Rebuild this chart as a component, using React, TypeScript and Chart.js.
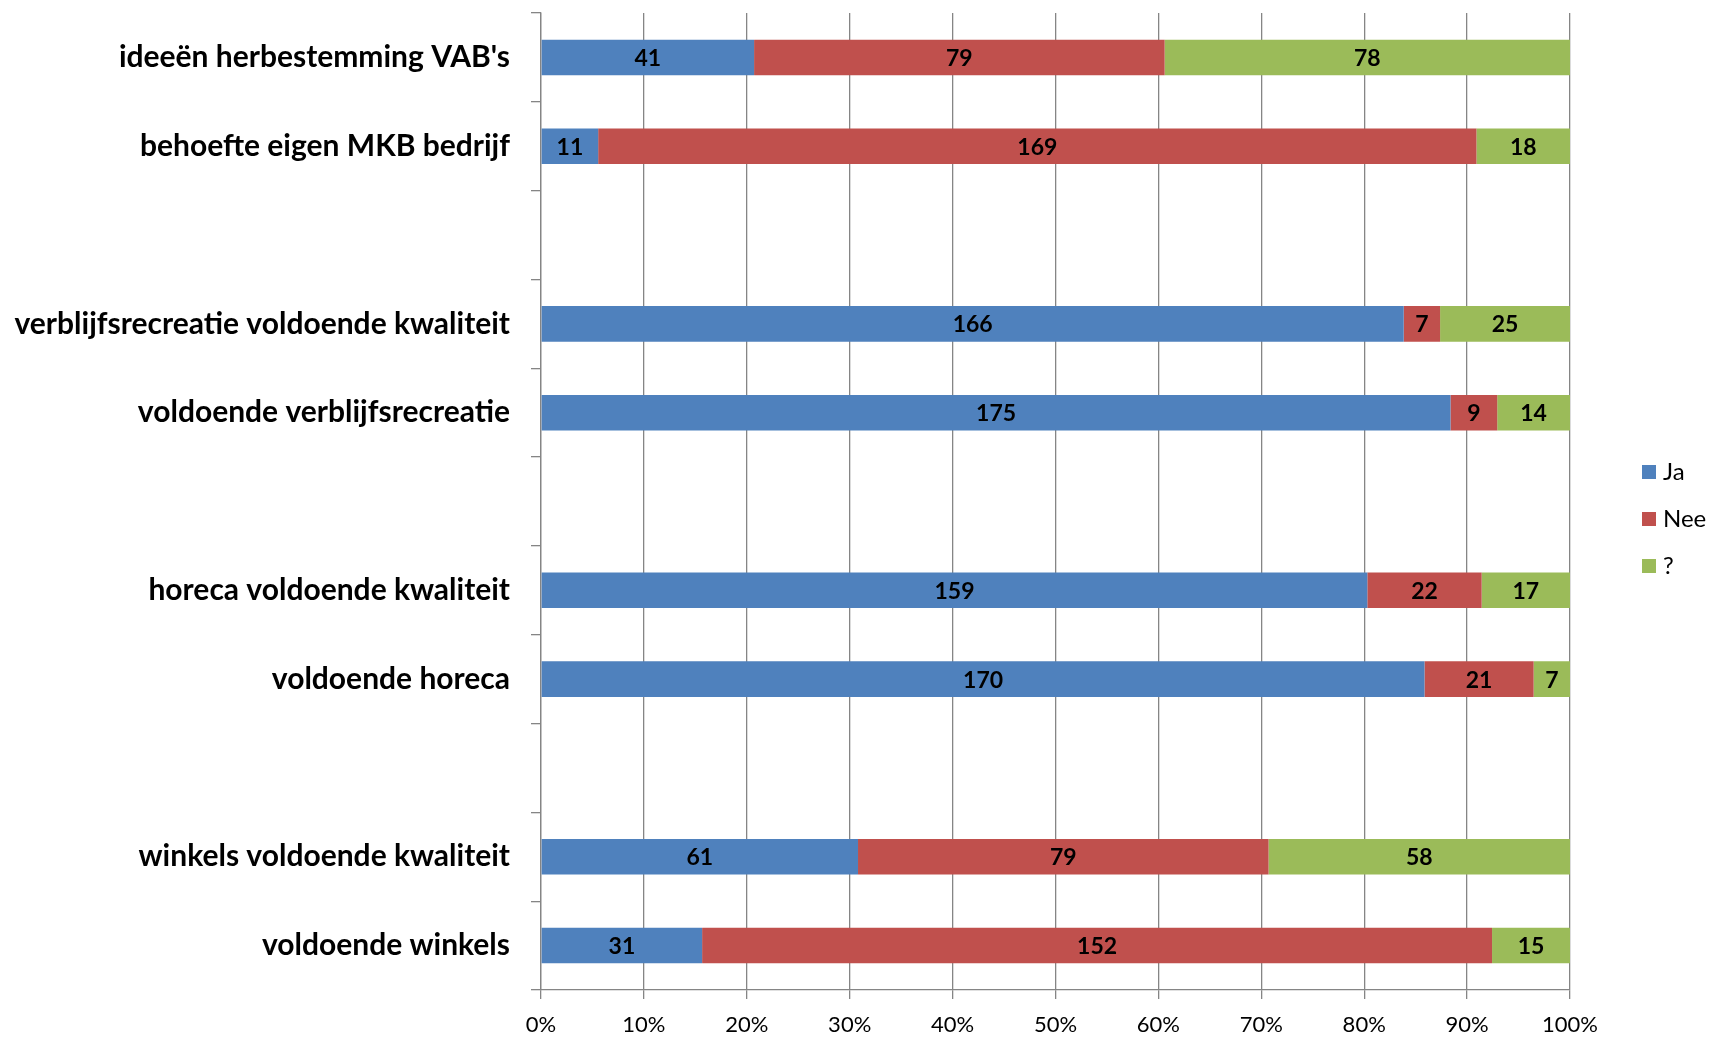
import React, { useEffect, useRef } from "react";
import { Chart, registerables } from "chart.js";

Chart.register(...registerables);

const categories = [
  "ideeën herbestemming VAB's",
  "behoefte eigen MKB bedrijf",
  "",
  "verblijfsrecreatie voldoende kwaliteit",
  "voldoende verblijfsrecreatie",
  "",
  "horeca voldoende kwaliteit",
  "voldoende horeca",
  "",
  "winkels voldoende kwaliteit",
  "voldoende winkels",
];

const jaValues = [41, 11, null, 166, 175, null, 159, 170, null, 61, 31];
const neeValues = [79, 169, null, 7, 9, null, 22, 21, null, 79, 152];
const unknownValues = [78, 18, null, 25, 14, null, 17, 7, null, 58, 15];

const seriesNames = ["Ja", "Nee", "?"];
const seriesColors = ["#4F81BD", "#C0504D", "#9BBB59"];
const xTicks = [0, 10, 20, 30, 40, 50, 60, 70, 80, 90, 100];

const FONT = "Lato, 'Open Sans', sans-serif";

function toPercent(series: (number | null)[]): (number | null)[] {
  return series.map((v, i) => {
    if (v === null) return null;
    const total = (jaValues[i] ?? 0) + (neeValues[i] ?? 0) + (unknownValues[i] ?? 0);
    return total ? (v / total) * 100 : 0;
  });
}

const rawSeries = [jaValues, neeValues, unknownValues];

export default function App() {
  const canvasRef = useRef<HTMLCanvasElement | null>(null);

  useEffect(() => {
    document.body.style.margin = "0";
    document.body.style.overflow = "hidden";
    const canvas = canvasRef.current;
    if (!canvas) return;

    const dataLabelPlugin = {
      id: "segmentLabels",
      afterDatasetsDraw(chart: any) {
        const ctx = chart.ctx;
        ctx.save();
        ctx.font = `bold 23px ${FONT}`;
        ctx.fillStyle = "#000";
        ctx.textAlign = "center";
        ctx.textBaseline = "middle";
        chart.data.datasets.forEach((ds: any, di: number) => {
          const meta = chart.getDatasetMeta(di);
          meta.data.forEach((el: any, i: number) => {
            const raw = rawSeries[di][i];
            if (raw === null || raw === undefined) return;
            const cx = (el.x + el.base) / 2;
            ctx.fillText(String(raw), cx, el.y + 1);
          });
        });
        ctx.restore();
      },
    };

    const legendPlugin = {
      id: "customLegend",
      afterDraw(chart: any) {
        const ctx = chart.ctx;
        ctx.save();
        ctx.font = `24px ${FONT}`;
        ctx.textBaseline = "middle";
        ctx.textAlign = "left";
        const ys = [472, 519, 566];
        seriesNames.forEach((name, i) => {
          ctx.fillStyle = seriesColors[i];
          ctx.fillRect(1642, ys[i] - 7, 14, 14);
          ctx.fillStyle = "#000";
          ctx.fillText(name, 1663, ys[i]);
        });
        ctx.restore();
      },
    };

    const chart = new Chart(canvas, {
      type: "bar",
      data: {
        labels: categories,
        datasets: seriesNames.map((name, i) => ({
          label: name,
          data: toPercent(rawSeries[i]),
          backgroundColor: seriesColors[i],
          borderWidth: 0,
          barPercentage: 0.4,
          categoryPercentage: 1,
        })),
      },
      options: {
        indexAxis: "y",
        responsive: false,
        animation: false,
        layout: { padding: { left: 0, right: 139, top: 13, bottom: 0 } },
        plugins: {
          legend: { display: false },
          tooltip: { enabled: false },
        },
        scales: {
          x: {
            stacked: true,
            min: 0,
            max: 100,
            afterBuildTicks(scale: any) {
              scale.ticks = xTicks.map((v) => ({ value: v }));
            },
            afterFit(scale: any) {
              scale.height = 47;
              scale.paddingLeft = 0;
              scale.paddingRight = 0;
            },
            grid: {
              color: "#858585",
              lineWidth: 1.3,
              tickLength: 9,
              drawTicks: true,
            },
            border: { display: true, color: "#858585", width: 1.3 },
            ticks: {
              padding: 13,
              color: "#000",
              font: { family: FONT, size: 22 },
              callback: (v: any) => `${v}%`,
            },
          },
          y: {
            stacked: true,
            afterFit(scale: any) {
              scale.width = 541;
              scale.paddingTop = 0;
              scale.paddingBottom = 0;
            },
            grid: {
              drawOnChartArea: false,
              drawTicks: true,
              tickLength: 10,
              offset: true,
              color: "#858585",
              lineWidth: 1.3,
            },
            border: { display: true, color: "#858585", width: 1.3 },
            ticks: {
              padding: 21,
              color: "#000",
              font: { family: FONT, size: 30, weight: "bold" },
              autoSkip: false,
            },
          },
        },
      },
      plugins: [dataLabelPlugin, legendPlugin],
    });

    return () => chart.destroy();
  }, []);

  return (
    <canvas
      ref={canvasRef}
      width={1709}
      height={1037}
      style={{ display: "block", width: 1709, height: 1037 }}
    />
  );
}
